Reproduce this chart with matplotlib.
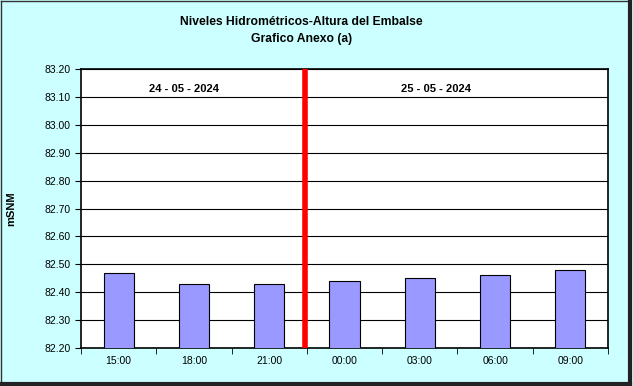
import matplotlib
matplotlib.use("Agg")
import matplotlib.pyplot as plt
from matplotlib.lines import Line2D
import numpy as np

plt.rcParams['font.family'] = ['Liberation Sans', 'DejaVu Sans']

horas = ['15:00', '18:00', '21:00', '00:00', '03:00', '06:00', '09:00']
niveles = [82.47, 82.43, 82.43, 82.44, 82.45, 82.46, 82.48]
fechas = ['24 - 05 - 2024', '25 - 05 - 2024']

fig = plt.figure(figsize=(6.33, 3.86), dpi=100, facecolor='#CCFFFF')
ax = fig.add_axes([0.128, 0.0984, 0.8325, 0.7226])
ax.set_facecolor('white')

x = np.arange(len(horas))
ax.bar(x, niveles, width=0.4, bottom=0, color='#9999FF', edgecolor='black', linewidth=0.8, zorder=3)

ax.set_xlim(-0.5, len(horas) - 0.5)
ax.set_ylim(82.2, 83.2)
ax.set_yticks(np.arange(82.2, 83.21, 0.1))
ax.set_yticklabels([f'{v:.2f}' for v in np.arange(82.2, 83.21, 0.1)], fontsize=7.5)
ax.set_xticks(x)
ax.set_xticklabels(horas, fontsize=7.5)
ax.tick_params(axis='x', length=0, pad=6)
ax.set_xticks(np.arange(-0.5, len(horas)), minor=True)
ax.tick_params(axis='x', which='minor', length=4, direction='out', color='black')
ax.tick_params(axis='y', length=4, direction='out')
ax.yaxis.grid(True, color='black', linewidth=0.8, zorder=1)
for s in ax.spines.values():
    s.set_linewidth(1.2)

# separador de dias
ax.axvline(2.47, color='red', linewidth=4, zorder=4)

ax.text(0.87, 83.13, fechas[0], fontsize=8, fontweight='bold', ha='center', va='center')
ax.text(4.21, 83.13, fechas[1], fontsize=8, fontweight='bold', ha='center', va='center')

ax.set_ylabel('mSNM', fontsize=8, fontweight='bold', labelpad=20)

fig.text(0.476, 0.943, 'Niveles Hidrométricos-Altura del Embalse', ha='center', va='center',
         fontsize=8.7, fontweight='bold')
fig.text(0.476, 0.900, 'Grafico Anexo (a)', ha='center', va='center', fontsize=8.7, fontweight='bold')

# borde de la figura
fig.add_artist(Line2D([0.002, 0.002], [0.004, 0.998], color='#333333', linewidth=1, transform=fig.transFigure))
fig.add_artist(Line2D([0.002, 0.995], [0.998, 0.998], color='#333333', linewidth=1, transform=fig.transFigure))
fig.add_artist(Line2D([0.995, 0.995], [0.004, 0.998], color='#222222', linewidth=3, transform=fig.transFigure))
fig.add_artist(Line2D([0.002, 0.995], [0.006, 0.006], color='#222222', linewidth=3, transform=fig.transFigure))

fig.savefig('out.png', dpi=100, facecolor=fig.get_facecolor())
